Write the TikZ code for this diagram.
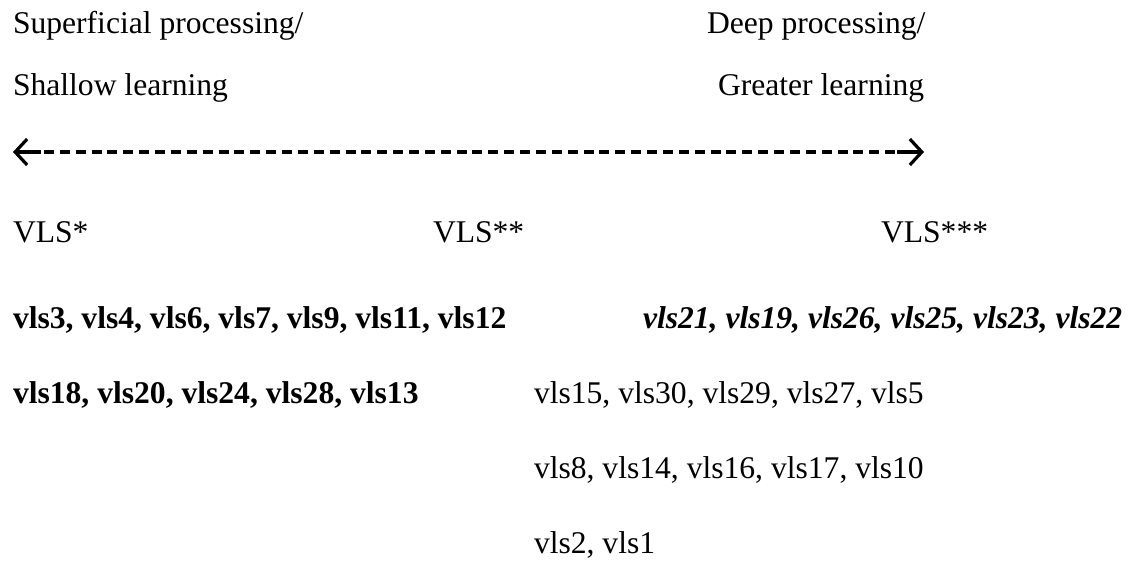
\documentclass[tikz,border=0pt]{standalone}
\usepackage{fontspec}
\setmainfont{Liberation Serif}
\usetikzlibrary{arrows.meta}
\tikzset{
  txt/.style={anchor=base west, inner sep=0pt, outer sep=0pt,
    font=\fontsize{31.6}{36}\selectfont},
  txtb/.style={txt, font=\fontsize{31.6}{36}\selectfont\bfseries},
  txtbi/.style={txt, font=\fontsize{31.6}{36}\selectfont\bfseries\itshape},
  shaft/.style={line width=3.2pt},
  dashline/.style={line width=3.6pt, dash pattern=on 10pt off 5.87pt},
  head/.style={-{Straight Barb[length=12pt,width=26pt,line width=3.2pt]}}
}
\begin{document}
\begin{tikzpicture}[x=1pt,y=-1pt]
\useasboundingbox (0,0) rectangle (1136,576);

% headings at both ends of the scale
\node[txt] (sup) at (13,33) {Superficial processing/};
\node[txt] (shal) at (13,95) {Shallow learning};
\node[txt] (deep) at (707,33) {Deep processing/};
\node[txt] (grea) at (718,95) {Greater learning};

% the dashed double-headed scale
\coordinate (lt) at (13,152);
\coordinate (ls) at (41,152);
\coordinate (dl) at (44,152);
\coordinate (dr) at (895,152);
\coordinate (rs) at (897,152);
\coordinate (rt) at (924,152);
\draw[shaft, head] (ls) -- (lt);
\draw[dashline] (dl) -- (dr);
\draw[shaft, head] (rs) -- (rt);

% strategy groups
\node[txt] (g1) at (13,242) {VLS*};
\node[txt] (g2) at (433,242) {VLS**};
\node[txt] (g3) at (881,242) {VLS***};

\node[txtb] (b1) at (13,328) {vls3, vls4, vls6, vls7, vls9, vls11, vls12};
\node[txtbi] (i1) at (643,328) {vls21, vls19, vls26, vls25, vls23, vls22};
\node[txtb] (b2) at (13,403) {vls18, vls20, vls24, vls28, vls13};
\node[txt] (m1) at (534,403) {vls15, vls30, vls29, vls27, vls5};
\node[txt] (m2) at (534,478) {vls8, vls14, vls16, vls17, vls10};
\node[txt] (m3) at (534,553) {vls2, vls1};
\end{tikzpicture}
\end{document}
